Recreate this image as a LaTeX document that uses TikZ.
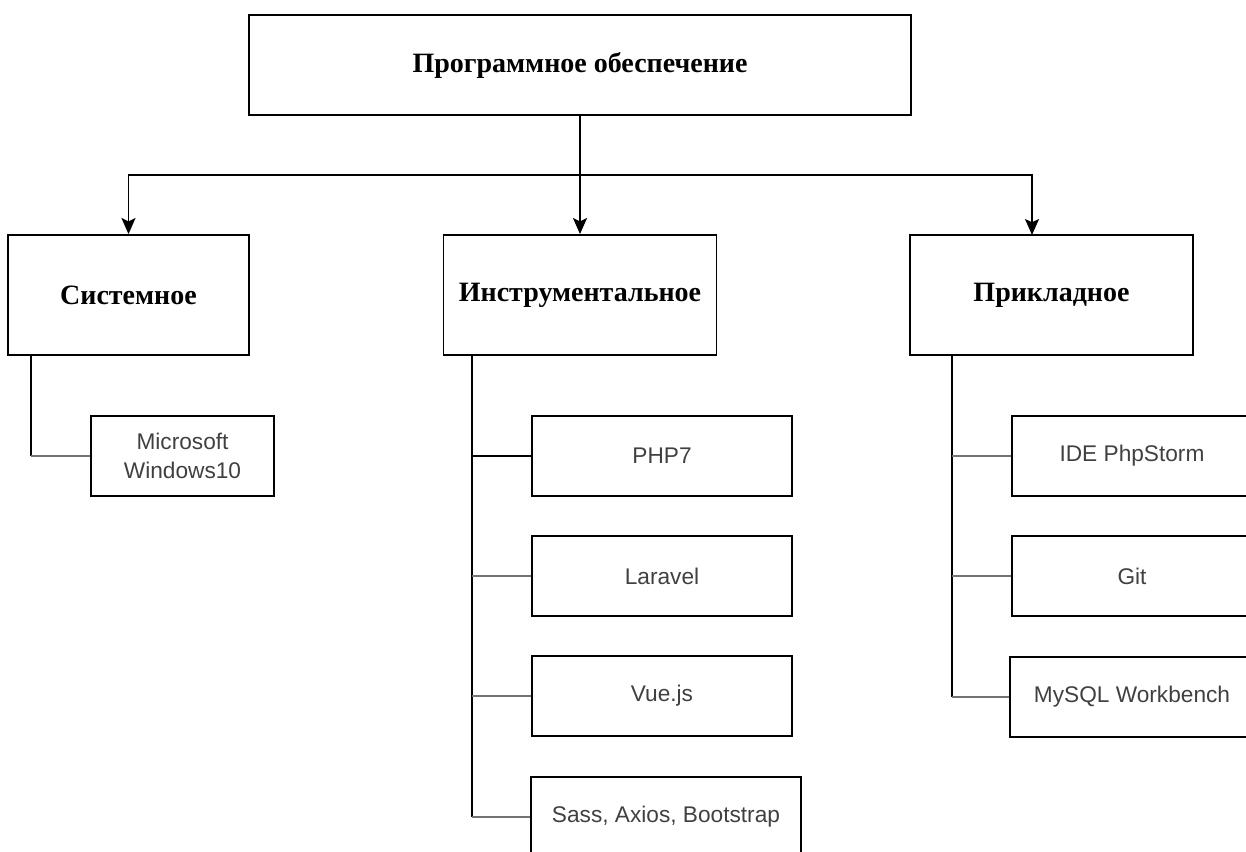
\documentclass[tikz,border=0pt]{standalone}
\usepackage{fontspec}
\setmainfont{Liberation Serif}
\newfontfamily\arialfont{Liberation Sans}
\usetikzlibrary{
  arrows.meta,   % Stealth 箭头
  positioning    % 节点相对定位
}

\begin{document}
\begin{tikzpicture}[x=0.75pt, y=-0.75pt, >={Stealth[length=12pt,width=10.5pt,inset=2.5pt]},
  topbox/.style={draw=black, line width=1.4pt, minimum width=496.5pt, minimum height=75pt,
    font=\bfseries\fontsize{21}{24}\selectfont},
  groupbox/.style={draw=black, line width=1.4pt, minimum height=90pt,
    font=\bfseries\fontsize{21}{24}\selectfont},
  itembox/.style={draw=black, line width=1.4pt, minimum height=60pt, align=center,
    text=black!75, font=\arialfont\fontsize{17}{22}\selectfont},
  link/.style={black, line width=1.4pt},
  branch/.style={black!55, line width=1.9pt}]

  % 页面范围与原图一致
  \useasboundingbox (0,0) rectangle (1246,852);

  % =============== 顶层 ===============
  \node[topbox] (soft) at (580,65) {Программное обеспечение};

  % =============== 三个分类 ===============
  \node[groupbox, minimum width=180.75pt] (sys)  at (128.5,295)  {Системное};
  \node[groupbox, minimum width=204.75pt] (tool) at (580,295)    {Инструментальное};
  \node[groupbox, minimum width=212.25pt] (app)  at (1051.5,295) {Прикладное};

  % 分支总线
  \coordinate (bus) at (580,175);
  \coordinate (appin) at (1032,235);
  \draw[link] (soft.south) -- (bus);
  \draw[link, ->] (bus) -| (sys.north);
  \draw[link, ->] (bus) -- (tool.north);
  \draw[link, ->] (bus) -| (appin);

  % =============== 系统软件 ===============
  \node[itembox, minimum width=137.25pt] (win) at (182.5,456) {Microsoft\\Windows10};

  \coordinate (sysspine) at (31,355);
  \draw[link] (sysspine) -- (sysspine |- win.west);
  \draw[branch] (sysspine |- win.west) -- (win.west);

  % =============== 工具软件 ===============
  \node[itembox, minimum width=195pt]   (php)  at (662,456) {PHP7};
  \node[itembox, minimum width=195pt]   (lara) at (662,576) {Laravel};
  \node[itembox, minimum width=195pt]   (vue)  at (662,696) {Vue.js};
  \node[itembox, minimum width=202.5pt] (sass) at (666,817) {Sass, Axios, Bootstrap};

  \coordinate (toolspine) at (472,355);
  \draw[link] (toolspine) -- (toolspine |- sass.west);
  \draw[link]   (toolspine |- php.west)  -- (php.west);
  \draw[branch] (toolspine |- lara.west) -- (lara.west);
  \draw[branch] (toolspine |- vue.west)  -- (vue.west);
  \draw[branch] (toolspine |- sass.west) -- (sass.west);

  % =============== 应用软件 ===============
  \node[itembox, minimum width=180pt] (ide)   at (1132,456) {IDE PhpStorm};
  \node[itembox, minimum width=180pt] (git)   at (1132,576) {Git};
  \node[itembox, minimum width=183pt] (mysql) at (1132,697) {MySQL Workbench};

  \coordinate (appspine) at (952,355);
  \draw[link] (appspine) -- (appspine |- mysql.west);
  \draw[branch] (appspine |- ide.west)   -- (ide.west);
  \draw[branch] (appspine |- git.west)   -- (git.west);
  \draw[branch] (appspine |- mysql.west) -- (mysql.west);

\end{tikzpicture}
\end{document}
